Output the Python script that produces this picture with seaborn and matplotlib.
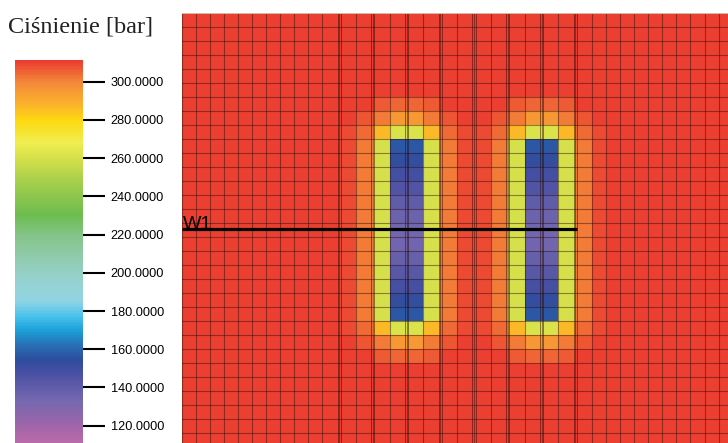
import numpy as np
import matplotlib
matplotlib.use("Agg")
import matplotlib.pyplot as plt
from matplotlib.colors import LinearSegmentedColormap
import seaborn as sns

# ---------------- data ----------------
title = "Ciśnienie [bar]"
well_name = "W1"

# colour scale (pressure, bar)
vmin, vmax = 110.9, 311.4
cbar_ticks = [120, 140, 160, 180, 200, 220, 240, 260, 280, 300]
cbar_labels = [f"{t:.4f}" for t in cbar_ticks]

# grid geometry: column widths in grid units (coarse=5, refined=6)
col_units = [5] * 10 + [6] * 16 + [5] * 10
n_rows = 31
background_pressure = 310.0

# pressure around each well (rows 6..24, 8 columns: halo..well..halo)
well_patch = [
    [310.0, 310, 306, 305, 305, 306, 310, 310.0],
    [310.0, 307, 302, 295, 295, 302, 307, 310.0],
    [308.5, 304, 287, 262, 262, 287, 304, 308.5],
    [308.5, 302, 260, 157, 157, 260, 302, 308.5],
    [308.5, 302, 260, 153, 153, 260, 302, 308.5],
    [308.5, 302, 260, 149, 149, 260, 302, 308.5],
    [308.5, 302, 260, 145, 145, 260, 302, 308.5],
    [308.5, 302, 260, 140, 140, 260, 302, 308.5],
    [308.5, 302, 260, 136, 136, 260, 302, 308.5],
    [308.5, 302, 260, 134, 134, 260, 302, 308.5],
    [308.5, 302, 260, 135, 135, 260, 302, 308.5],
    [308.5, 302, 260, 138, 138, 260, 302, 308.5],
    [308.5, 302, 260, 143, 143, 260, 302, 308.5],
    [308.5, 302, 260, 148, 148, 260, 302, 308.5],
    [308.5, 302, 260, 153, 153, 260, 302, 308.5],
    [308.5, 302, 260, 157, 157, 260, 302, 308.5],
    [308.5, 304, 287, 262, 262, 287, 304, 308.5],
    [310.0, 307, 302, 295, 295, 302, 307, 310.0],
    [310.0, 310, 306, 305, 305, 306, 310, 310.0],
]
patch_top_row = 6
patch_left_cols = [11, 19]

# refined-grid boundaries drawn as clustered lines (column index of left edge)
lgr_cols = [11, 13, 15, 17, 19, 21, 23, 25]

# well W1 trajectory (row position, start/end column index + fraction)
w1_row = 15.43
w1_start = (0, 0.0)
w1_end = (25, 0.12)

# ---------------- build field ----------------
n_cols = len(col_units)
field = np.full((n_rows, n_cols), background_pressure)
patch = np.array(well_patch, dtype=float)
for c0 in patch_left_cols:
    field[patch_top_row:patch_top_row + patch.shape[0], c0:c0 + patch.shape[1]] = patch
fine = np.repeat(field, col_units, axis=1)
edges = np.concatenate([[0], np.cumsum(col_units)])

anchors = [
    (110.9, "#bb6aaa"), (119.4, "#a065aa"), (133, "#7468af"), (147, "#4a50a3"),
    (154, "#2d4c9e"), (161, "#2a6ab0"), (169.6, "#1aa0d8"), (176.5, "#45c0ec"),
    (185, "#90d4e4"), (195.6, "#96d2d0"), (209.5, "#8fcaa8"), (220, "#84c488"),
    (230.6, "#6dbc4e"), (248, "#a6cf4c"), (260, "#d5e04a"), (268.6, "#f0ee50"),
    (280, "#fdd90f"), (287.8, "#fbb52a"), (300, "#f4883a"), (311.4, "#ea3a30"),
]
cmap = LinearSegmentedColormap.from_list(
    "press", [((v - vmin) / (vmax - vmin), c) for v, c in anchors])

# ---------------- figure ----------------
W, H = 728, 443
fig = plt.figure(figsize=(W / 100, H / 100), dpi=100)
ax = fig.add_axes([181.7 / W, 0, (W - 181.7) / W, (H - 12.7) / H])
cax = fig.add_axes([15 / W, 0, (83 - 15) / W, (H - 60) / H])

sns.heatmap(fine, ax=ax, cmap=cmap, vmin=vmin, vmax=vmax, cbar_ax=cax,
            xticklabels=False, yticklabels=False)

x_right = edges[-2] + (728 - 718.7) / 2.78
y_bottom = (443 - 12.7) / 14.02
ax.set_xlim(0, x_right)
ax.set_ylim(y_bottom, 0)

grid_kw = dict(color="#2a0a08", alpha=0.45, lw=0.8)
for e in edges:
    ax.axvline(e, **grid_kw)
for r in range(n_rows + 1):
    ax.axhline(r, **grid_kw)
for c in lgr_cols:
    for off in (-0.55, 0.55):
        ax.axvline(edges[c] + off, color="#2a0a08", alpha=0.5, lw=0.7)
ax.axhline(0, color="#d8b8a8", lw=1.5)

x0 = edges[w1_start[0]] + w1_start[1] * col_units[w1_start[0]]
x1 = edges[w1_end[0]] + w1_end[1] * col_units[w1_end[0]]
ax.plot([x0, x1], [w1_row, w1_row], color="black", lw=2.3, solid_capstyle="butt")
ax.text(x0 + 0.4, w1_row, well_name, fontsize=14, family="Liberation Sans",
        va="baseline", ha="left", color="black")

cbar = ax.collections[0].colorbar
cbar.outline.set_visible(False)
cbar.set_ticks(cbar_ticks)
cbar.set_ticklabels(cbar_labels)
cax.tick_params(axis="y", length=16, width=1.5, pad=3.8, labelsize=9.2,
                color="black", labelcolor="black")
for lab in cax.get_yticklabels():
    lab.set_family("Liberation Sans")

fig.text(8 / W, 1 - 33 / H, title, fontsize=17.5, family="Liberation Serif",
         va="baseline", ha="left", color="#222222")

fig.savefig("out.png", dpi=100)
